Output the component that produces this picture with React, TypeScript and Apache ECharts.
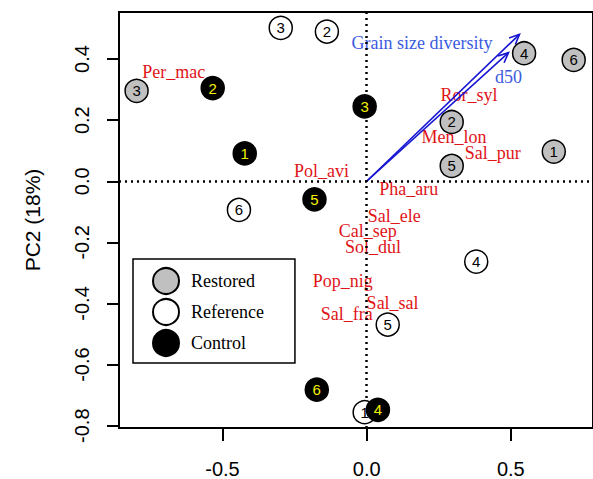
import React, { useEffect, useRef } from "react";
import * as echarts from "echarts";

// Site scores (PC1, PC2)
const siteIds = ["1", "2", "3", "4", "5", "6"];
const restoredX = [0.649, 0.295, -0.798, 0.546, 0.295, 0.718];
const restoredY = [0.097, 0.194, 0.296, 0.419, 0.05, 0.397];
const referenceX = [-0.007, -0.138, -0.298, 0.38, 0.073, -0.443];
const referenceY = [-0.756, 0.49, 0.502, -0.263, -0.469, -0.094];
const controlX = [-0.423, -0.534, -0.007, 0.039, -0.181, -0.173];
const controlY = [0.091, 0.305, 0.245, -0.748, -0.059, -0.682];

// Species label positions
const speciesNames = ["Per_mac", "Pol_avi", "Ror_syl", "Men_lon", "Sal_pur", "Pha_aru", "Sal_ele", "Cal_sep", "Sol_dul", "Pop_nig", "Sal_sal", "Sal_fra"];
const speciesX = [-0.669, -0.157, 0.355, 0.303, 0.437, 0.146, 0.096, 0.004, 0.022, -0.083, 0.09, -0.069];
const speciesY = [0.356, 0.034, 0.283, 0.144, 0.093, -0.024, -0.113, -0.162, -0.214, -0.325, -0.398, -0.433];

// Environmental vectors
const envNames = ["Grain size diversity", "d50"];
const envX = [0.53, 0.492];
const envY = [0.481, 0.421];
const envLabelX = [0.192, 0.492];
const envLabelY = [0.452, 0.341];

// Axes
const xTicks = [-0.5, 0, 0.5];
const yTicks = [-0.8, -0.6, -0.4, -0.2, 0, 0.2, 0.4];
const xMin = -0.859, xMax = 0.785;
const yMin = -0.8076, yMax = 0.554;

const SANS = "Liberation Sans";
const SERIF = "Liberation Serif";

function siteSeries(name: string, xs: number[], ys: number[], fill: string, textColor: string) {
  return {
    name,
    type: "scatter",
    symbol: "circle",
    symbolSize: 23,
    z: 5,
    data: xs.map((x, i) => ({ name: siteIds[i], value: [x, ys[i]] })),
    itemStyle: { color: fill, borderColor: "#000", borderWidth: 1.5, opacity: 1 },
    label: {
      show: true,
      position: "inside",
      formatter: (p: any) => p.name,
      fontFamily: SANS,
      fontSize: 15,
      color: textColor,
      textBorderWidth: 0,
    },
    emphasis: { disabled: true },
  };
}

export default function App() {
  const ref = useRef<HTMLDivElement>(null);
  useEffect(() => {
    if (!ref.current) return;
    const chart = echarts.init(ref.current, undefined, { renderer: "svg" });
    const arrowColor = "#1414d2";
    chart.setOption({
      animation: false,
      backgroundColor: "#fff",
      grid: {
        left: 119,
        top: 12,
        bottom: 49,
        right: -4,
        show: true,
        borderColor: "#000",
        borderWidth: 2,
        backgroundColor: "transparent",
      },
      xAxis: {
        type: "value",
        min: xMin,
        max: xMax,
        axisLine: { show: true, onZero: false, lineStyle: { color: "#000", width: 2 } },
        axisTick: { show: true, length: 13, customValues: xTicks, lineStyle: { color: "#000", width: 2 } },
        axisLabel: {
          customValues: xTicks,
          formatter: (v: number) => v.toFixed(1),
          fontFamily: SANS,
          fontSize: 20,
          color: "#000",
          margin: 31,
        },
        splitLine: { show: false },
      },
      yAxis: {
        type: "value",
        min: yMin,
        max: yMax,
        name: "PC2 (18%)",
        nameLocation: "middle",
        nameRotate: 90,
        nameGap: 76,
        nameTextStyle: { fontFamily: SANS, fontSize: 21, color: "#000" },
        axisLine: { show: true, onZero: false, lineStyle: { color: "#000", width: 2 } },
        axisTick: { show: true, length: 12, customValues: yTicks, lineStyle: { color: "#000", width: 2 } },
        axisLabel: {
          customValues: yTicks,
          rotate: 90,
          formatter: (v: number) => v.toFixed(1),
          fontFamily: SANS,
          fontSize: 20,
          color: "#000",
          margin: 27,
        },
        splitLine: { show: false },
      },
      legend: {
        data: ["Restored", "Reference", "Control"],
        orient: "vertical",
        left: 133,
        top: 259,
        padding: [8, 31, 6, 19],
        itemWidth: 26,
        itemHeight: 26,
        itemGap: 3,
        borderColor: "#000",
        borderWidth: 1.5,
        backgroundColor: "#fff",
        icon: "circle",
        textStyle: { fontFamily: SERIF, fontSize: 18, color: "#000", padding: [0, 0, 0, 7] },
      },
      series: [
        {
          name: "species",
          type: "scatter",
          symbolSize: 0,
          z: 2,
          itemStyle: { opacity: 1 },
          data: speciesNames.map((n, i) => ({ name: n, value: [speciesX[i], speciesY[i]] })),
          label: {
            show: true,
            position: "inside",
            formatter: (p: any) => p.name,
            fontFamily: SERIF,
            fontSize: 18,
            color: "#e01418",
            textBorderWidth: 0,
          },
          markLine: {
            silent: true,
            symbol: ["none", "none"],
            label: { show: false },
            lineStyle: { color: "#000", type: [2, 4], width: 2.5 },
            data: [{ xAxis: 0 }, { yAxis: 0 }],
          },
          emphasis: { disabled: true },
        },
        {
          name: "envLabels",
          type: "scatter",
          symbolSize: 0,
          z: 3,
          itemStyle: { opacity: 1 },
          data: envNames.map((n, i) => ({ name: n, value: [envLabelX[i], envLabelY[i]] })),
          label: {
            show: true,
            position: "inside",
            formatter: (p: any) => p.name,
            fontFamily: SERIF,
            fontSize: 18,
            color: "#3b5be0",
            textBorderWidth: 0,
          },
          emphasis: { disabled: true },
        },
        {
          name: "vectors",
          type: "custom",
          z: 4,
          data: envX.map((x, i) => [x, envY[i]]),
          renderItem: (params: any, api: any) => {
            const p0 = api.coord([0, 0]);
            const p1 = api.coord([api.value(0), api.value(1)]);
            const ang = Math.atan2(p1[1] - p0[1], p1[0] - p0[0]);
            const L = 11, a = 0.42;
            const h1 = [p1[0] - L * Math.cos(ang - a), p1[1] - L * Math.sin(ang - a)];
            const h2 = [p1[0] - L * Math.cos(ang + a), p1[1] - L * Math.sin(ang + a)];
            return {
              type: "group",
              children: [
                { type: "line", shape: { x1: p0[0], y1: p0[1], x2: p1[0], y2: p1[1] }, style: { stroke: arrowColor, lineWidth: 1.6 } },
                { type: "polyline", shape: { points: [h1, p1, h2] }, style: { stroke: arrowColor, fill: null, lineWidth: 1.6 } },
              ],
            };
          },
        },
        siteSeries("Restored", restoredX, restoredY, "#c0c0c0", "#000"),
        siteSeries("Reference", referenceX, referenceY, "#ffffff", "#000"),
        siteSeries("Control", controlX, controlY, "#000000", "#f5f000"),
      ],
    });
    return () => chart.dispose();
  }, []);
  return <div ref={ref} style={{ position: "absolute", left: 0, top: 0, width: 593, height: 479 }} />;
}
